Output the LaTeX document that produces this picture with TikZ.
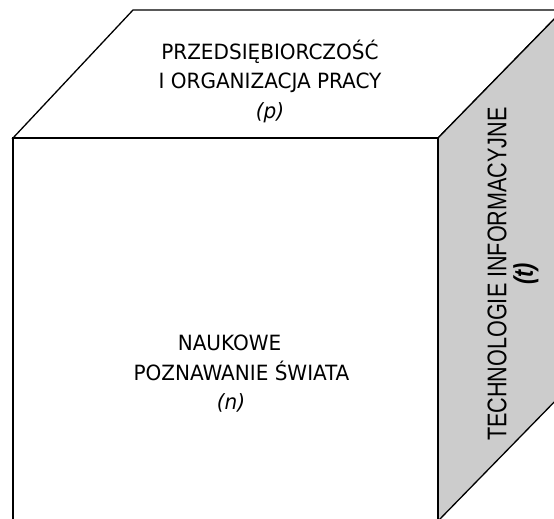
\documentclass[tikz,border=0pt]{standalone}
\usepackage{fontspec}
\usepackage{xcolor}
\usepackage{tikz}
\setmainfont{DejaVu Sans Condensed}[ItalicFont={DejaVu Sans Condensed Oblique}, FakeStretch=1.06]
\newfontfamily\sidefont[FakeStretch=0.80]{Liberation Sans}
\definecolor{edge}{HTML}{000000}
\definecolor{side}{HTML}{CCCCCC}
\definecolor{paper}{HTML}{FFFFFF}
\tikzset{
  face/.style={draw=edge, line width=1.3pt, line join=miter},
  lab/.style={text=edge, font=\fontsize{21}{29.5}\selectfont, align=center, inner sep=0pt},
  labs/.style={text=edge, font=\sidefont\fontsize{27}{26.5}\selectfont, align=center, inner sep=0pt, rotate=90},
}

\begin{document}
\begin{tikzpicture}[x=1pt,y=-1pt]
  \useasboundingbox (0,0) rectangle (554,519);
  \clip (0,0) rectangle (554,519);
  \coordinate (FTL) at (13,138);
  \coordinate (FTR) at (438,138);
  \coordinate (FBL) at (13,521);
  \coordinate (FBR) at (438,521);
  \coordinate (BTL) at (133,10);
  \coordinate (BTR) at (563,10);
  \coordinate (BBR) at (563,393);

  \draw[face, fill=paper] (FTL) -- (BTL) -- (BTR) -- (FTR) -- cycle; % top
  \draw[face, fill=side] (FTR) -- (BTR) -- (BBR) -- (FBR) -- cycle; % right side
  \draw[face, fill=paper] (FTL) -- (FTR) -- (FBR) -- (FBL) -- cycle; % front

  \node[lab] (p) at (270,81) {PRZEDSIĘBIORCZOŚĆ\\I ORGANIZACJA PRACY\\\textit{(p)}};
  \node[lab] (n) at (241.5,374) {NAUKOWE\kern24pt\\POZNAWANIE ŚWIATA\\\textit{(n)}\kern21pt};
  \node[labs] (t) at (513,274) {TECHNOLOGIE INFORMACYJNE\\\textbf{\textit{(t)}}};
\end{tikzpicture}
\end{document}
